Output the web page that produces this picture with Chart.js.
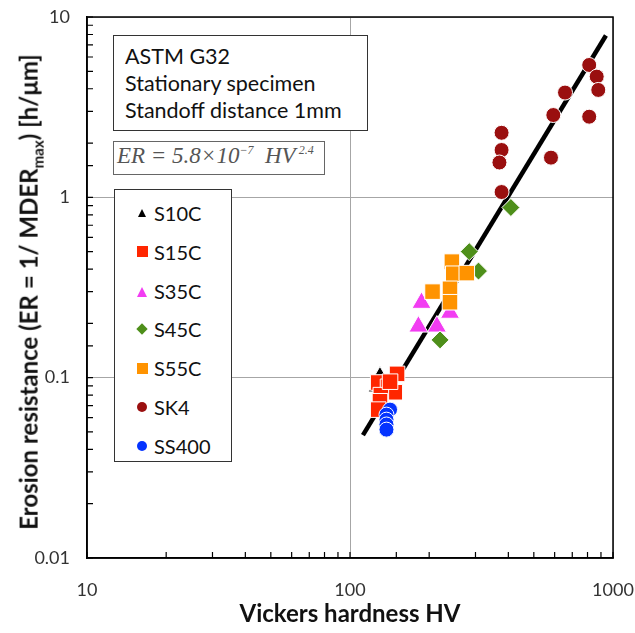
<!DOCTYPE html>
<html>
<head>
<meta charset="utf-8">
<script src="https://cdn.jsdelivr.net/npm/chart.js@4/dist/chart.umd.min.js"></script>
<style>
  body { margin: 0; background: #fff; }
  #wrap { position: relative; width: 635px; height: 633px; font-family: Lato, "Open Sans", sans-serif; color: #111; }
  #wrap canvas { position: absolute; left: 0; top: 0; }
  .box { position: absolute; background: #fff; border: 1.5px solid #333; box-sizing: border-box; }
  #note { left: 113px; top: 35px; width: 255px; height: 96px; font-size: 21.5px; line-height: 27px; padding: 7px 0 0 11px; white-space: nowrap; }
  #eq { left: 113px; top: 141px; width: 212px; height: 34px; border-color: #666; font-family: "Liberation Serif", serif; font-style: italic; font-size: 23px; color: #555; padding: 1px 0 0 3px; white-space: nowrap; }
  #eq sup { font-size: 12px; }
  #legend { left: 114px; top: 189px; width: 118px; height: 273px; }
  .row { position: absolute; left: 0; height: 24px; font-size: 20px; line-height: 24px; }
  .row span { position: absolute; left: 39px; white-space: nowrap; }
  .mk { position: absolute; left: 22px; top: 7px; }
  #ytitle { position: absolute; left: 30px; top: 292px; transform: translate(-50%, -50%) rotate(-90deg); font-weight: bold; font-size: 24px; white-space: nowrap; }
  #ytitle sub { font-size: 15px; }
  #xtitle { position: absolute; left: 350px; top: 612px; transform: translate(-50%, -50%); font-weight: bold; font-size: 24px; white-space: nowrap; }
</style>
</head>
<body>
<div id="wrap">
  <canvas id="erosion__chart" width="635" height="633"></canvas>
  <div class="box" id="note">ASTM G32<br>Stationary specimen<br>Standoff distance 1mm</div>
  <div class="box" id="eq">ER = 5.8×10<sup>−7</sup>&nbsp; HV<sup> 2.4</sup></div>
  <div class="box" id="legend"></div>
  <div id="ytitle">Erosion resistance (ER = 1/ MDER<sub>max</sub>) [h/μm]</div>
  <div id="xtitle">Vickers hardness HV</div>
</div>
<script>
// values (HV, ER)
const s10cHV = [130, 120];
const s10cER = [0.107, 0.085];

const s15cHV = [128, 151, 139.5, 148, 131, 130, 128, 142];
const s15cER = [0.094, 0.105, 0.089, 0.083, 0.080, 0.074, 0.0665, 0.095];

const s35cHV = [187, 182, 214, 240];
const s35cER = [0.26, 0.192, 0.192, 0.229];

const s45cHV = [409, 284, 308, 220];
const s45cER = [0.878, 0.50, 0.39, 0.162];

const s55cHV = [244, 247, 278, 206, 240, 240];
const s55cER = [0.44, 0.377, 0.38, 0.30, 0.311, 0.262];

const sk4HV = [812, 867, 879, 657, 593, 812, 377, 377, 370, 581, 377];
const sk4ER = [5.42, 4.67, 3.94, 3.81, 2.86, 2.80, 2.28, 1.83, 1.56, 1.66, 1.07];

const ss400HV = [142, 137.6, 137.6, 137.6, 137.6];
const ss400ER = [0.0665, 0.0624, 0.0585, 0.055, 0.0515];

// ends of the fitted line ER = 5.8e-7 HV^2.4
const fitHV = [112, 940];
const fitER = [0.048, 7.9];

const xTickLabels = [10, 100, 1000];
const yTickLabels = [0.01, 0.1, 1, 10];

const toPoints = (xs, ys) => xs.map((x, i) => ({ x: x, y: ys[i] }));

const series = [
    { label: 'S10C', xs: s10cHV, ys: s10cER, color: '#000000', style: 'triangle', radius: [6, 3], legendSize: 8 },
    { label: 'S15C', xs: s15cHV, ys: s15cER, color: '#ff2600', style: 'rect', radius: 11, legendSize: 11 },
    { label: 'S35C', xs: s35cHV, ys: s35cER, color: '#f23cf2', style: 'triangle', radius: 11, legendSize: 10 },
    { label: 'S45C', xs: s45cHV, ys: s45cER, color: '#4e8f1a', style: 'rectRot', radius: 9, legendSize: 8 },
    { label: 'S55C', xs: s55cHV, ys: s55cER, color: '#ff9300', style: 'rect', radius: 11, legendSize: 11 },
    { label: 'SK4', xs: sk4HV, ys: sk4ER, color: '#9a0f0f', style: 'circle', radius: 7.5, legendSize: 10 },
    { label: 'SS400', xs: ss400HV, ys: ss400ER, color: '#0433ff', style: 'circle', radius: 7.5, legendSize: 10 },
];

const datasets = series.map((s, i) => ({
    type: 'scatter',
    label: s.label,
    data: toPoints(s.xs, s.ys),
    pointStyle: s.style,
    pointRadius: s.radius,
    backgroundColor: s.color,
    borderColor: '#ffffff',
    borderWidth: 1,
    order: series.length - i,
}));

datasets.push({
    type: 'line',
    label: 'fit',
    data: toPoints(fitHV, fitER),
    borderColor: '#000',
    borderWidth: 4.5,
    pointRadius: 0,
    order: 20,
});

// legend, in the same order as the series
const legendEle = document.getElementById('legend');
series.forEach((s, i) => {
    const row = document.createElement('div');
    row.className = 'row';
    row.style.top = (11 + i * 38.8) + 'px';
    const mk = document.createElement('div');
    mk.className = 'mk';
    const n = s.legendSize;
    if (s.style === 'triangle') {
        mk.style.cssText = `width:0;height:0;border-left:${n / 2}px solid transparent;border-right:${n / 2}px solid transparent;border-bottom:${n}px solid ${s.color};left:${27 - n / 2}px;top:${8}px;`;
    } else if (s.style === 'rectRot') {
        mk.style.cssText = `width:${n}px;height:${n}px;background:${s.color};transform:rotate(45deg);left:${27 - n / 2}px;top:${12 - n / 2}px;`;
    } else {
        mk.style.cssText = `width:${n}px;height:${n}px;background:${s.color};left:${27 - n / 2}px;top:${12 - n / 2}px;` + (s.style === 'circle' ? 'border-radius:50%;' : '');
    }
    const txt = document.createElement('span');
    txt.textContent = s.label;
    row.appendChild(mk);
    row.appendChild(txt);
    legendEle.appendChild(row);
});

const isDecade = v => Math.abs(Math.log10(v) - Math.round(Math.log10(v))) < 1e-6;

// frame and small inner ticks like the original figure
const framePlugin = {
    id: 'frame',
    afterDraw(chart) {
        const { ctx, chartArea: a, scales } = chart;
        ctx.save();
        ctx.strokeStyle = '#000';
        ctx.lineWidth = 1.2;
        ctx.beginPath();
        scales.x.ticks.forEach(t => {
            const px = scales.x.getPixelForValue(t.value);
            ctx.moveTo(px, a.bottom);
            ctx.lineTo(px, a.bottom - 6);
        });
        scales.y.ticks.forEach(t => {
            const py = scales.y.getPixelForValue(t.value);
            ctx.moveTo(a.left, py);
            ctx.lineTo(a.left + 6, py);
        });
        ctx.stroke();
        ctx.lineWidth = 1.5;
        ctx.strokeRect(a.left, a.top, a.right - a.left, a.bottom - a.top);
        ctx.restore();
    },
};

const erosionChart = new Chart(document.getElementById('erosion__chart'), {
    type: 'scatter',
    data: { datasets: datasets },
    options: {
        responsive: false,
        animation: false,
        layout: { padding: { top: 17, right: 22, left: 0, bottom: 0 } },
        plugins: { legend: { display: false }, tooltip: { enabled: false } },
        scales: {
            x: {
                type: 'logarithmic',
                min: 10,
                max: 1000,
                afterFit: s => { s.height = 75; s.paddingLeft = 0; s.paddingRight = 0; },
                border: { color: '#000', width: 1.5 },
                grid: {
                    drawTicks: false,
                    color: c => (c.tick && isDecade(c.tick.value) ? '#a6a6a6' : 'rgba(0,0,0,0)'),
                },
                ticks: {
                    autoSkip: false,
                    maxRotation: 0,
                    padding: 21,
                    color: '#333',
                    font: { family: 'Lato', size: 18 },
                    callback: v => (xTickLabels.some(t => Math.abs(t - v) < 1e-6) ? String(v) : ''),
                },
            },
            y: {
                type: 'logarithmic',
                min: 0.01,
                max: 10,
                afterFit: s => { s.width = 87; s.paddingTop = 0; s.paddingBottom = 0; },
                border: { color: '#000', width: 1.5 },
                grid: {
                    drawTicks: false,
                    color: c => (c.tick && isDecade(c.tick.value) ? '#a6a6a6' : 'rgba(0,0,0,0)'),
                },
                ticks: {
                    autoSkip: false,
                    padding: 17,
                    color: '#333',
                    font: { family: 'Lato', size: 18 },
                    callback: v => (yTickLabels.some(t => Math.abs(t - v) < 1e-9) ? String(v) : ''),
                },
            },
        },
    },
    plugins: [framePlugin],
});
</script>
</body>
</html>
